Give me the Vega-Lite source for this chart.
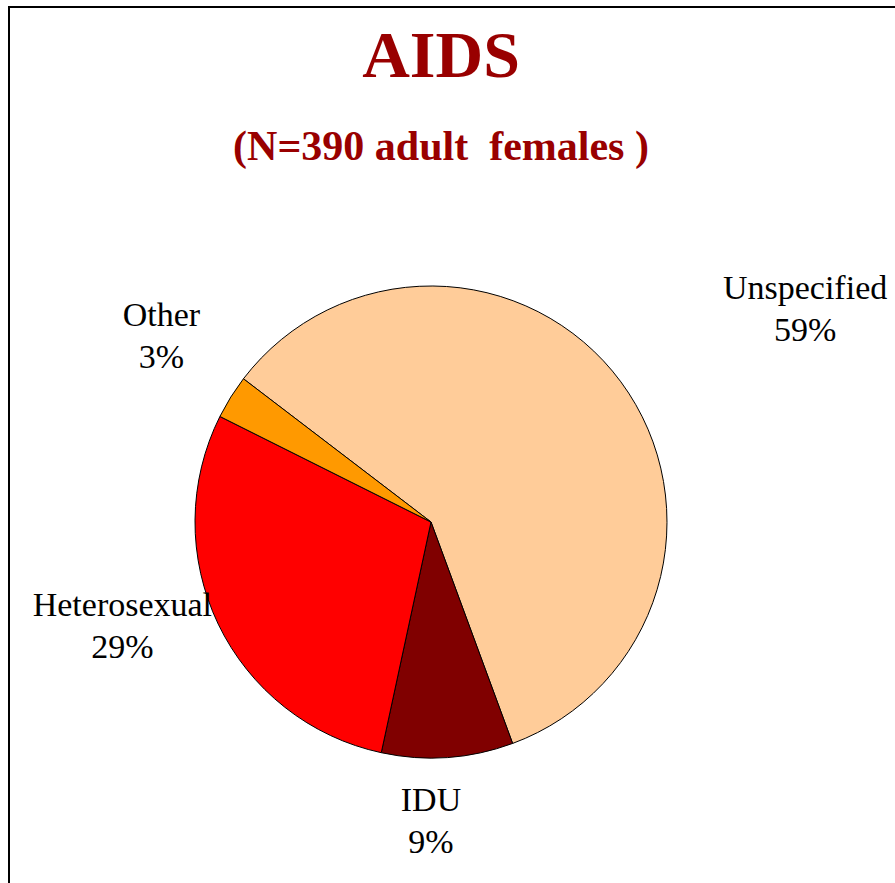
{
  "$schema": "https://vega.github.io/schema/vega-lite/v6.json",
  "width": 886,
  "height": 876,
  "autosize": {"type": "none"},
  "padding": {"left": 9, "top": 7, "right": 0, "bottom": 0},
  "background": "white",
  "view": {"stroke": "black", "strokeWidth": 2, "fill": "white", "strokeDash": [886, 1762, 876, 10]},
  "title": {
    "text": "AIDS",
    "subtitle": "(N=390 adult\u00a0 females )",
    "anchor": "middle",
    "dx": -11,
    "offset": -162,
    "font": "Liberation Serif",
    "fontSize": 66,
    "fontWeight": "bold",
    "color": "#990000",
    "subtitleFont": "Liberation Serif",
    "subtitleFontSize": 42,
    "subtitleFontWeight": "bold",
    "subtitleColor": "#990000",
    "subtitlePadding": 36
  },
  "data": {
    "values": [
      {"cat": "Unspecified", "pct": 59, "ord": 1},
      {"cat": "IDU", "pct": 9, "ord": 2},
      {"cat": "Heterosexual", "pct": 29, "ord": 3},
      {"cat": "Other", "pct": 3, "ord": 4}
    ]
  },
  "encoding": {
    "theta": {"field": "pct", "type": "quantitative", "stack": true, "scale": {"range": [5.3645, 11.6477]}},
    "order": {"field": "ord", "type": "quantitative"}
  },
  "layer": [
    {
      "mark": {"type": "arc", "x": 422, "y": 515, "outerRadius": 236, "stroke": "black", "strokeWidth": 1},
      "encoding": {
        "color": {
          "field": "cat",
          "type": "nominal",
          "scale": {"domain": ["Unspecified", "IDU", "Heterosexual", "Other"], "range": ["#FFCC99", "#800000", "#FF0000", "#FF9900"]},
          "legend": null
        }
      }
    },
    {
      "transform": [{"calculate": "datum.cat + '\\n' + datum.pct + '%'", "as": "label"}],
      "mark": {
        "type": "text",
        "x": 422,
        "y": 515,
        "dy": -21,
        "font": "Liberation Serif",
        "fontSize": 34,
        "lineBreak": "\n",
        "lineHeight": 42,
        "align": "center",
        "baseline": "middle",
        "color": "black",
        "radius": {"expr": "datum.cat == 'Unspecified' ? 430 : datum.cat == 'Other' ? 327 : datum.cat == 'Heterosexual' ? 326 : 300"},
        "thetaOffset": {"expr": "datum.cat == 'Unspecified' ? 0.1203 : datum.cat == 'Other' ? 0.0438 : datum.cat == 'Heterosexual' ? 0.1194 : 0.0705"}
      },
      "encoding": {"text": {"field": "label"}}
    }
  ]
}
